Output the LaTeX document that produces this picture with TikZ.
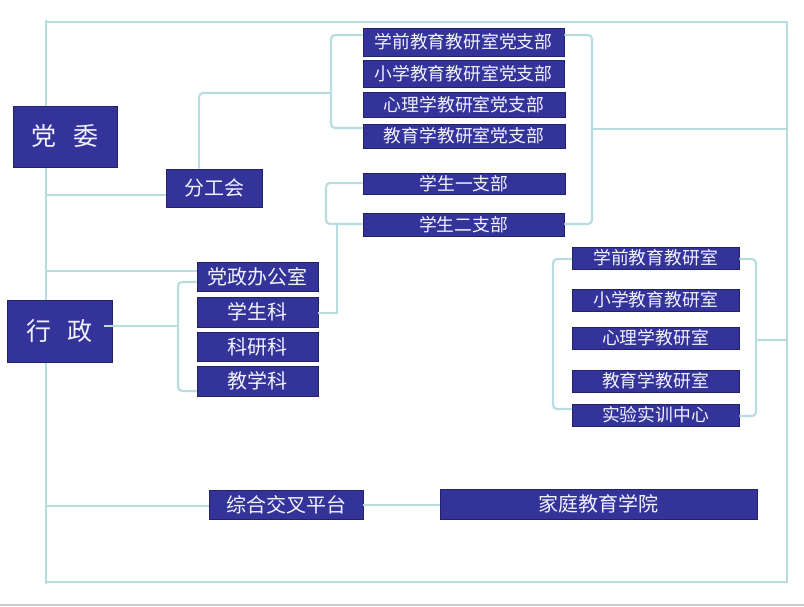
\documentclass[tikz,border=0pt]{standalone}
\usepackage{fontspec}
\newfontfamily\cjk{Noto Sans CJK SC}
\definecolor{boxfill}{HTML}{333399}
\definecolor{boxline}{HTML}{22226A}
\definecolor{conn}{HTML}{B7DDE0}
\definecolor{txt}{HTML}{F2F2FF}
\begin{document}
\begin{tikzpicture}[x=1pt,y=-1pt,
  box/.style={draw=boxline,fill=boxfill,line width=0.9pt,text=txt,inner sep=0pt,font=\cjk\fontsize{20}{20}\selectfont},
  small/.style={box,font=\cjk\fontsize{17.8}{17.8}\selectfont},
  big/.style={box,font=\cjk\fontsize{25}{25}\selectfont},
  link/.style={draw=conn,line width=2.2pt,rounded corners=4pt},
  frame/.style={draw=conn,line width=2.2pt}]
\useasboundingbox (0,0) rectangle (804,607);
\draw[draw=black!20,line width=1.5pt] (0,605) -- (804,605);
% frame
\coordinate (tl) at (46,20);
\coordinate (bl) at (46,584);
\coordinate (tr) at (787,22);
\coordinate (br) at (787,582);
\draw[frame] (tl) -- (bl);
\draw[frame] (46,22) -- (tr) -- (br) -- (46,582);
% nodes
\node[big,minimum width=104pt,minimum height=61pt] (dw) at (65,136.5) {党\hspace{17pt}委};
\node[big,minimum width=105pt,minimum height=62pt] (xz) at (59.5,331) {行\hspace{17pt}政};
\node[box,minimum width=96pt,minimum height=38pt] (fgh) at (214,188) {分工会};
\node[small,minimum width=201pt,minimum height=28pt] (p1) at (463.5,42) {学前教育教研室党支部};
\node[small,minimum width=201pt,minimum height=27pt] (p2) at (463.5,73.5) {小学教育教研室党支部};
\node[small,minimum width=202pt,minimum height=25pt] (p3) at (464,104.5) {心理学教研室党支部};
\node[small,minimum width=202pt,minimum height=24pt] (p4) at (464,136) {教育学教研室党支部};
\node[small,minimum width=202pt,minimum height=21pt] (s1) at (464,183.5) {学生一支部};
\node[small,minimum width=201pt,minimum height=23pt] (s2) at (463.5,224.5) {学生二支部};
\node[box,minimum width=121pt,minimum height=29pt] (a1) at (257.5,276.5) {党政办公室};
\node[box,minimum width=121pt,minimum height=30pt] (a2) at (257.5,312) {学生科};
\node[box,minimum width=121pt,minimum height=29pt] (a3) at (257.5,346.5) {科研科};
\node[box,minimum width=121pt,minimum height=30pt] (a4) at (257.5,381) {教学科};
\node[small,minimum width=167pt,minimum height=22pt] (r1) at (655.5,258) {学前教育教研室};
\node[small,minimum width=167pt,minimum height=22pt] (r2) at (655.5,300) {小学教育教研室};
\node[small,minimum width=167pt,minimum height=22pt] (r3) at (655.5,338) {心理学教研室};
\node[small,minimum width=167pt,minimum height=22pt] (r4) at (655.5,381) {教育学教研室};
\node[small,minimum width=167pt,minimum height=22pt] (r5) at (655.5,415) {实验实训中心};
\node[box,minimum width=317pt,minimum height=30pt] (jt) at (598.5,504) {家庭教育学院};
\node[box,minimum width=154pt,minimum height=29pt] (zh) at (286,504.5) {综合交叉平台};
% connectors
\draw[link] (46,195) -- (fgh.west |- 0,195);
\draw[link] (fgh.north -| 199,0) -- (199,93) -- (331,93);
\draw[link] (p1.west |- 0,35) -- (331,35) -- (331,128) -- (p4.west |- 0,128);
\draw[link] (p1.east |- 0,35) -- (592,35) -- (592,224) -- (s2.east |- 0,224);
\draw[link] (592,129) -- (tr |- 0,129);
\draw[link] (s1.west |- 0,183) -- (326,183) -- (326,224) -- (s2.west |- 0,224);
\draw[link,rounded corners=0pt] (a2.east |- 0,313) -- (337,313) -- (337,224);
\draw[link] (46,271) -- (a1.west |- 0,271);
\draw[link] (a1.west |- 0,282) -- (178,282) -- (178,391) -- (a4.west |- 0,391);
\draw[link] (104,326) -- (178,326);
\draw[link] (r1.west |- 0,259) -- (553,259) -- (553,409) -- (r5.west |- 0,409);
\draw[link] (r1.east |- 0,259) -- (756,259) -- (756,416) -- (r5.east |- 0,416);
\draw[link] (756,340) -- (tr |- 0,340);
\draw[link] (46,506) -- (zh.west |- 0,506);
\draw[link] (zh.east |- 0,505) -- (jt.west |- 0,505);
\end{tikzpicture}
\end{document}
